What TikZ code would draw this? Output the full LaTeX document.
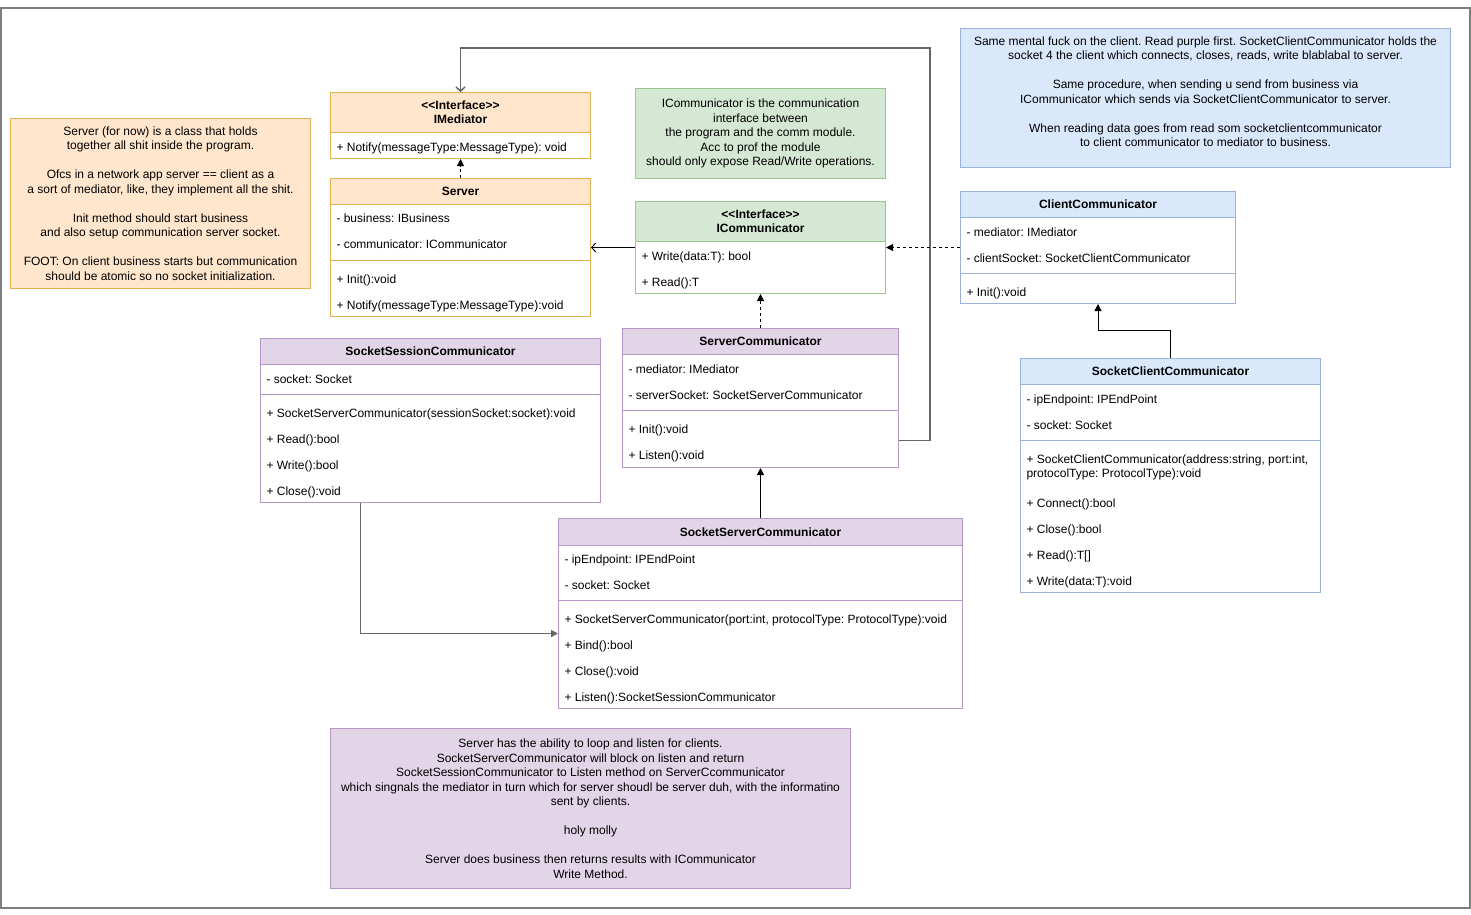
\documentclass[tikz,border=0pt]{standalone}
\usepackage{fontspec}
\setmainfont{Liberation Sans}
\usepackage{tikz}
\usetikzlibrary{arrows.meta}

\definecolor{orfill}{HTML}{FFE6CC}
\definecolor{orline}{HTML}{E3B352}
\definecolor{grfill}{HTML}{D5E8D4}
\definecolor{grline}{HTML}{9DC68C}
\definecolor{blfill}{HTML}{DAE8FC}
\definecolor{blline}{HTML}{99B3DB}
\definecolor{pufill}{HTML}{E1D5E7}
\definecolor{puline}{HTML}{B596C4}
\definecolor{frame}{HTML}{7F7F7F}
\definecolor{wire}{HTML}{666666}
\frenchspacing

\begin{document}
\begin{tikzpicture}[x=1pt, y=-1pt, line width=1pt,
  font=\fontsize{12}{14.5}\selectfont,
  note/.style={draw, align=center, anchor=north west, inner sep=0pt},
  box/.style={draw, anchor=north west, inner sep=0pt},
  head/.style={draw, anchor=north west, inner sep=0pt, align=center,
    font=\fontsize{12}{14}\selectfont\bfseries},
  mem/.style={anchor=base west, inner sep=0pt},
  impl/.style={dashed, -{Triangle[length=7pt,width=7pt]}},
  ext/.style={-{Triangle[length=7pt,width=7pt]}},
  assoc/.style={-{Straight Barb[length=4pt,width=9pt]}}]

\useasboundingbox (0,0) rectangle (1471,914);
\draw[frame, line width=2pt] (1,8) rectangle (1470,908);

\node[note, fill=orfill, draw=orline, minimum width=300pt, minimum height=170pt] (servernote) at (10,118)
  {Server (for now) is a class that holds\\together all shit inside the program.\\[14.5pt]
   Ofcs in a network app server == client as a\\a sort of mediator, like, they implement all the shit.\\[14.5pt]
   Init method should start business\\and also setup communication server socket.\\[14.5pt]
   FOOT: On client business starts but communication\\should be atomic so no socket initialization.};

\node[note, fill=grfill, draw=grline, minimum width=250pt, minimum height=90pt] (commnote) at (635,88)
  {ICommunicator is the communication\\interface between\\the program and the comm module.\\Acc to prof the module\\should only expose Read/Write operations.};

\node[note, fill=blfill, draw=blline, minimum width=490pt, minimum height=139pt] (clientnote) at (960,28)
  {Same mental fuck on the client. Read purple first. SocketClientCommunicator holds the\\socket 4 the client which connects, closes, reads, write blablabal to server.\\[14.5pt]
   Same procedure, when sending u send from business via\\ICommunicator which sends via SocketClientCommunicator to server.\\[14.5pt]
   When reading data goes from read som socketclientcommunicator\\to client communicator to mediator to business.\\[-1.5pt]};

\node[note, fill=pufill, draw=puline, minimum width=520pt, minimum height=160pt] (listennote) at (330,728)
  {Server has the ability to loop and listen for clients.\\SocketServerCommunicator will block on listen and return\\SocketSessionCommunicator to Listen method on ServerCcommunicator\\which singnals the mediator in turn which for server shoudl be server duh, with the informatino\\sent by clients.\\[14.5pt]
   holy molly\\[14.5pt]
   Server does business then returns results with ICommunicator\\Write Method.};

\node[box, draw=orline, minimum width=260pt, minimum height=66pt] (imed) at (330,92) {};
\node[head, fill=orfill, draw=orline, minimum width=260pt, minimum height=40pt] (imedhead) at (330,92) {<\kern0pt<Interface>\kern0pt>\\IMediator};
\node[mem] (imed1) at (336,151) {+ Notify(messageType:MessageType): void};

\node[box, draw=orline, minimum width=260pt, minimum height=138pt] (server) at (330,178) {};
\node[head, fill=orfill, draw=orline, minimum width=260pt, minimum height=26pt] (serverhead) at (330,178) {Server};
\node[mem] (server1) at (336,222) {- business: IBusiness};
\node[mem] (server2) at (336,248) {- communicator: ICommunicator};
\draw[orline] (server.west |- 0,260) -- (server.east |- 0,260);
\node[mem] (server3) at (336,283) {+ Init():void};
\node[mem] (server4) at (336,309) {+ Notify(messageType:MessageType):void};

\node[box, draw=grline, minimum width=250pt, minimum height=92pt] (icomm) at (635,201) {};
\node[head, fill=grfill, draw=grline, minimum width=250pt, minimum height=40pt] (icommhead) at (635,201) {<\kern0pt<Interface>\kern0pt>\\ICommunicator};
\node[mem] (icomm1) at (641,260) {+ Write(data:T): bool};
\node[mem] (icomm2) at (641,286) {+ Read():T};

\node[box, draw=blline, minimum width=275pt, minimum height=112pt] (cc) at (960,191) {};
\node[head, fill=blfill, draw=blline, minimum width=275pt, minimum height=26pt] (cchead) at (960,191) {ClientCommunicator};
\node[mem] (cc1) at (966,236) {- mediator: IMediator};
\node[mem] (cc2) at (966,262) {- clientSocket: SocketClientCommunicator};
\draw[blline] (cc.west |- 0,273) -- (cc.east |- 0,273);
\node[mem] (cc3) at (966,296) {+ Init():void};

\node[box, draw=puline, minimum width=340pt, minimum height=164pt] (sess) at (260,338) {};
\node[head, fill=pufill, draw=puline, minimum width=340pt, minimum height=26pt] (sesshead) at (260,338) {SocketSessionCommunicator};
\node[mem] (sess1) at (266,383) {- socket: Socket};
\draw[puline] (sess.west |- 0,394) -- (sess.east |- 0,394);
\node[mem] (sess2) at (266,417) {+ SocketServerCommunicator(sessionSocket:socket):void};
\node[mem] (sess3) at (266,443) {+ Read():bool};
\node[mem] (sess4) at (266,469) {+ Write():bool};
\node[mem] (sess5) at (266,495) {+ Close():void};

\node[box, draw=puline, minimum width=276pt, minimum height=139pt] (sc) at (622,328) {};
\node[head, fill=pufill, draw=puline, minimum width=276pt, minimum height=26pt] (schead) at (622,328) {ServerCommunicator};
\node[mem] (sc1) at (628,373) {- mediator: IMediator};
\node[mem] (sc2) at (628,399) {- serverSocket: SocketServerCommunicator};
\draw[puline] (sc.west |- 0,410) -- (sc.east |- 0,410);
\node[mem] (sc3) at (628,433) {+ Init():void};
\node[mem] (sc4) at (628,459) {+ Listen():void};

\node[box, draw=puline, minimum width=404pt, minimum height=190pt] (ssc) at (558,518) {};
\node[head, fill=pufill, draw=puline, minimum width=404pt, minimum height=27pt] (sschead) at (558,518) {SocketServerCommunicator};
\node[mem] (ssc1) at (564,563) {- ipEndpoint: IPEndPoint};
\node[mem] (ssc2) at (564,589) {- socket: Socket};
\draw[puline] (ssc.west |- 0,600) -- (ssc.east |- 0,600);
\node[mem] (ssc3) at (564,623) {+ SocketServerCommunicator(port:int, protocolType: ProtocolType):void};
\node[mem] (ssc4) at (564,649) {+ Bind():bool};
\node[mem] (ssc5) at (564,675) {+ Close():void};
\node[mem] (ssc6) at (564,701) {+ Listen():SocketSessionCommunicator};

\node[box, draw=blline, minimum width=300pt, minimum height=234pt] (scc) at (1020,358) {};
\node[head, fill=blfill, draw=blline, minimum width=300pt, minimum height=26pt] (scchead) at (1020,358) {SocketClientCommunicator};
\node[mem] (scc1) at (1026,403) {- ipEndpoint: IPEndPoint};
\node[mem] (scc2) at (1026,429) {- socket: Socket};
\draw[blline] (scc.west |- 0,440) -- (scc.east |- 0,440);
\node[mem] (scc3) at (1026,463) {+ SocketClientCommunicator(address:string, port:int,};
\node[mem] (scc4) at (1026,477) {protocolType: ProtocolType):void};
\node[mem] (scc5) at (1026,507) {+ Connect():bool};
\node[mem] (scc6) at (1026,533) {+ Close():bool};
\node[mem] (scc7) at (1026,559) {+ Read():T[]};
\node[mem] (scc8) at (1026,585) {+ Write(data:T):void};

\coordinate (loop) at (930,48);
\draw[assoc, wire, line width=1.5pt] ([yshift=-42.5pt]sc.east) -| (loop) -| (imed.north);
\draw[assoc] (icomm.west) -- (server.east);
\draw[impl] (cc.west) -- (icomm.east);
\draw[impl] (sc.north) -- (icomm.south);
\draw[impl] (server.north) -- (imed.south);
\draw[ext] (ssc.north) -- (sc.south);
\draw[ext, wire, line width=1.5pt] ([xshift=-70pt]sess.south) |- ([yshift=-20pt]ssc.west);
\draw[ext] (scc.north) -- ++(0,-28) -| (cc.south);
\end{tikzpicture}
\end{document}
